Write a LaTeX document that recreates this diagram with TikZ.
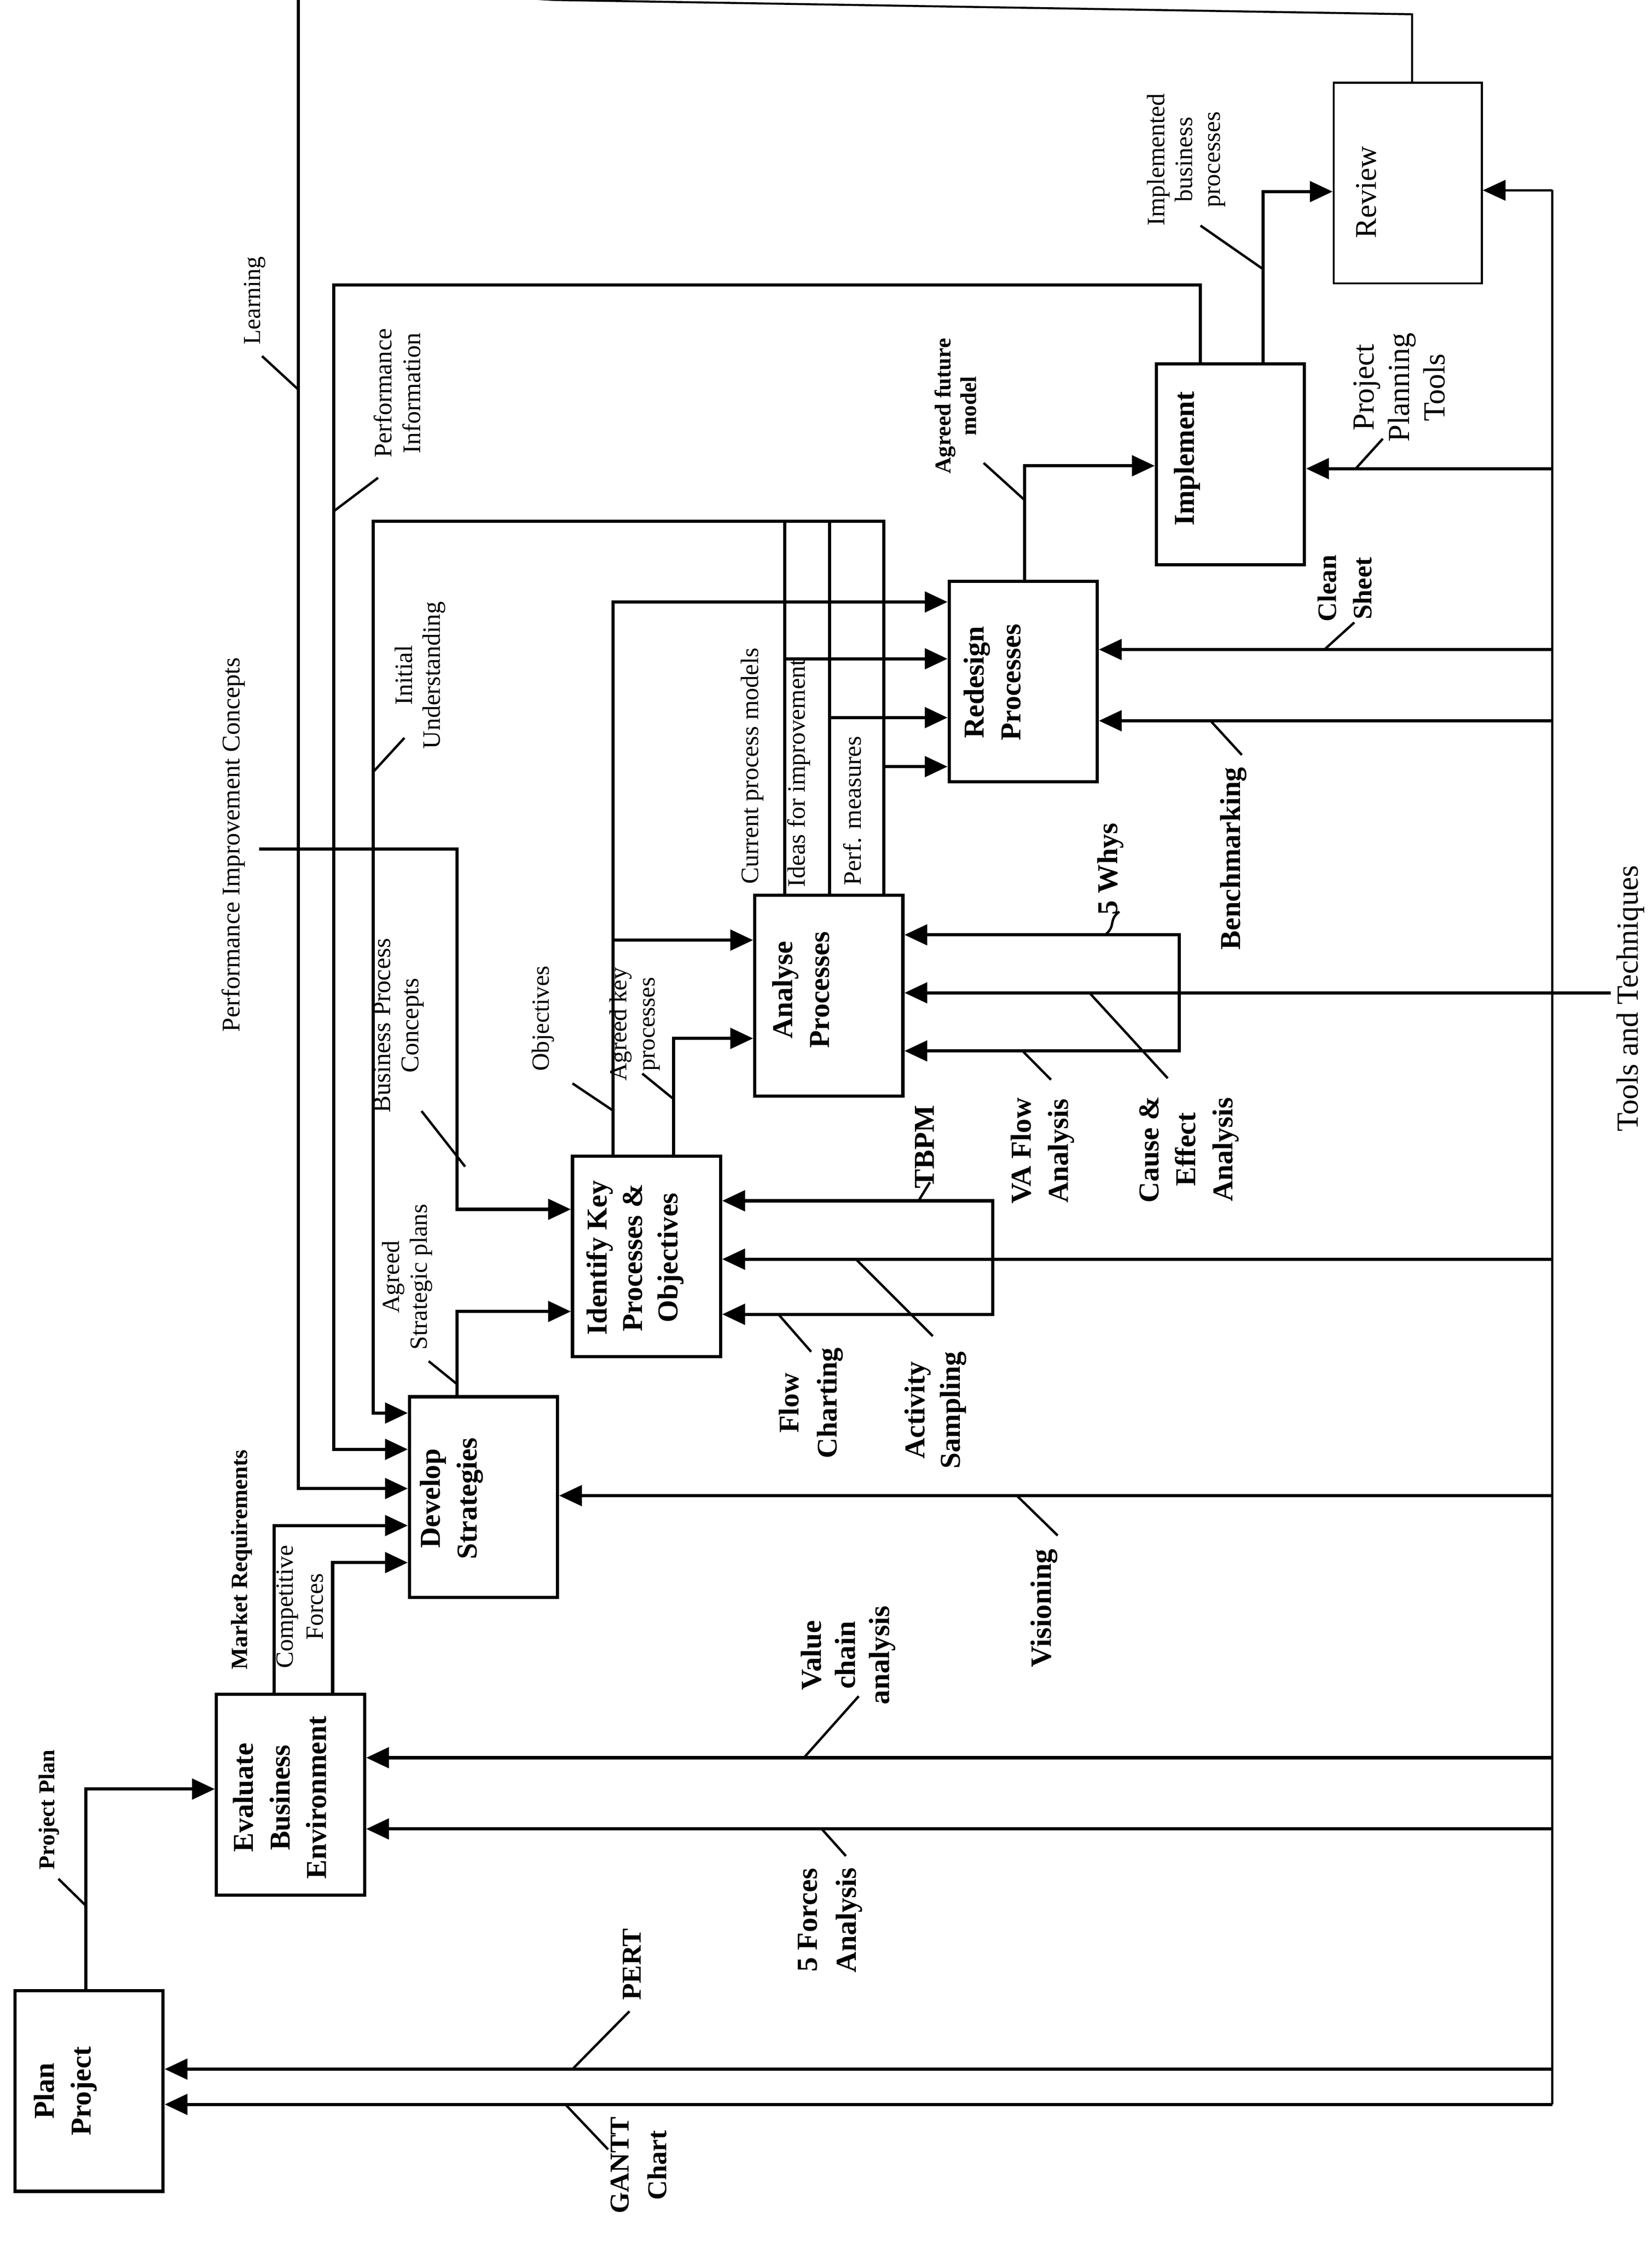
\documentclass[tikz,border=0pt]{standalone}
\usepackage{fontspec}
\setmainfont{Liberation Serif}
\usetikzlibrary{arrows.meta}

\tikzset{
  procbox/.style={draw, line width=1.6pt, minimum width=2.6cm, minimum height=3.52cm, inner sep=0pt},
  boxtxt/.style={rotate=90, align=center, inner sep=0pt, font=\bfseries\fontsize{14.4}{18.3}\selectfont},
  flow/.style={line width=1.6pt, -{Triangle[length=0.4cm,width=0.36cm]}},
  thinflow/.style={line width=1pt, -{Triangle[length=0.4cm,width=0.36cm]}},
  tick/.style={line width=1.2pt},
  plainlab/.style={rotate=90, align=center, inner sep=0pt, font=\fontsize{12.5}{14}\selectfont},
  boldlab/.style={rotate=90, align=center, inner sep=0pt, font=\bfseries\fontsize{14.4}{18.5}\selectfont}
}

\begin{document}
\begin{tikzpicture}[x=0.025cm, y=-0.025cm]
  \fill[white] (0,0) rectangle (1160,1574);
  \useasboundingbox (0,0) rectangle (1160,1574);

  % Process boxes
  \node[procbox] (plan) at (62.5,1468) {};
  \node[procbox] (eval) at (204,1260) {};
  \node[procbox] (dev) at (339.5,1051) {};
  \node[procbox] (ident) at (454,882) {};
  \node[procbox] (anal) at (582,699) {};
  \node[procbox] (redes) at (718.5,478.5) {};
  \node[procbox] (impl) at (864,326) {};
  \node[procbox, line width=1pt] (review) at (988.5,128.5) {};

  \node[boxtxt] (plan-t) at (46,1468) {Plan\\Project};
  \node[boxtxt] (eval-t) at (196.5,1262) {Evaluate\\Business\\Environment};
  \node[boxtxt] (dev-t) at (317,1052) {Develop\\Strategies};
  \node[boxtxt, font=\bfseries\fontsize{14.4}{17.6}\selectfont] (ident-t) at (446,883) {Identify Key\\Processes \&\\Objectives};
  \node[boxtxt] (anal-t) at (562.5,695) {Analyse\\Processes};
  \node[boxtxt] (redes-t) at (696.7,479) {Redesign\\Processes};
  \node[boxtxt] (impl-t) at (833.7,322) {Implement};
  \node[boxtxt, font=\fontsize{15}{18}\selectfont] (review-t) at (959.5,135) {Review};

  % Outputs and controls between boxes
  \coordinate (pp) at (60.4,1256);
  \draw[flow] (pp |- plan.north) -- (pp) -- (pp -| eval.west);
  \coordinate (mr) at (192.4,1071);
  \draw[flow] (mr |- eval.north) -- (mr) -- (mr -| dev.west);
  \coordinate (cf) at (233.6,1097);
  \draw[flow] (cf |- eval.north) -- (cf) -- (cf -| dev.west);

  \coordinate (rv) at (991.6,10);
  \coordinate (lr) at (209.5,1045);
  \draw[line width=1pt] (rv |- review.north) -- (rv) -- (390,0) -- (209.5,-10);
  \draw[flow] (209.5,-10) -- (lr) -- (lr -| dev.west);

  \coordinate (pi) at (843,200);
  \coordinate (pi2) at (234.5,1017.5);
  \draw[flow] (pi |- impl.north) -- (pi) -- (pi -| pi2) -- (pi2) -- (pi2 -| dev.west);

  \coordinate (cpm) at (551,366);
  \coordinate (ifi) at (582.6,366);
  \coordinate (pm) at (620.5,366);
  \coordinate (iu) at (262,992);
  \draw[line width=1.6pt] (cpm |- anal.north) -- (cpm);
  \draw[line width=1.6pt] (ifi |- anal.north) -- (ifi);
  \draw[flow] (pm |- anal.north) -- (pm) -- (iu |- pm) -- (iu) -- (iu -| dev.west);
  \draw[flow] (551,462.5) -- (redes.west |- 0,462.5);
  \draw[flow] (582.6,503.8) -- (redes.west |- 0,503.8);
  \draw[flow] (620.5,538.2) -- (redes.west |- 0,538.2);

  \coordinate (ob) at (430.5,422.6);
  \draw[flow] (ob |- ident.north) -- (ob) -- (ob -| redes.west);
  \draw[flow] (430.5,660) -- (anal.west |- 0,660);
  \coordinate (akp) at (473,729);
  \draw[flow] (akp |- ident.north) -- (akp) -- (akp -| anal.west);
  \coordinate (asp) at (321,920.7);
  \draw[flow] (asp |- dev.north) -- (asp) -- (asp -| ident.west);
  \coordinate (pic) at (182,596);
  \coordinate (pic2) at (321,849);
  \draw[flow] (pic) -- (pic -| pic2) -- (pic2) -- (pic2 -| ident.west);

  \coordinate (afm) at (719.4,327);
  \draw[flow] (afm |- redes.north) -- (afm) -- (afm -| impl.west);
  \coordinate (ibp) at (887,134.5);
  \draw[flow] (ibp |- impl.north) -- (ibp) -- (ibp -| review.west);

  % Tools and techniques (mechanisms)
  \coordinate (tt) at (1090,133.6);
  \coordinate (tt-end) at (1090,1477.4);
  \draw[line width=1pt] (tt) -- (tt-end);
  \draw[thinflow] (tt) -- (tt -| review.east);
  \foreach \yy/\bx in {329/impl, 456/redes, 506/redes, 884/ident, 1050/dev, 1234/eval, 1284/eval, 1452.6/plan, 1477.4/plan}
    \draw[flow] (1090,\yy) -- (\bx.east |- 0,\yy);
  \draw[flow] (1131,697) -- (anal.east |- 0,697);
  \draw[flow] (697,884) |- (ident.east |- 0,843);
  \draw[flow] (697,884) |- (ident.east |- 0,922.7);
  \draw[flow] (828,697) |- (anal.east |- 0,656.3);
  \draw[flow] (828,697) |- (anal.east |- 0,737.8);

  % Leader ticks
  \draw[tick] (41,1319) -- (60.4,1338);
  \draw[tick] (184,250) -- (209.5,273.5);
  \draw[tick] (234.5,358.8) -- (265.5,335.4);
  \draw[tick] (262,542) -- (284,518);
  \draw[tick] (296,780) -- (326.6,819);
  \draw[tick] (301,955.6) -- (321,971.8);
  \draw[tick] (402,760.6) -- (430.5,779.7);
  \draw[tick] (451,753.7) -- (473,771.6);
  \draw[tick] (645,843) -- (653,830);
  \draw[tick] (546.6,922.7) -- (569.6,949);
  \draw[tick] (601,884) -- (655,938);
  \draw[tick] (776,656.3) .. controls (784,650) and (778,646) .. (786,640);
  \draw[tick] (718,737.8) -- (738,758);
  \draw[tick] (765,697) -- (820,757);
  \draw[tick] (850,506) -- (872,530);
  \draw[tick] (930,456) -- (951,437);
  \draw[tick] (952,329) -- (971,308);
  \draw[tick] (690.7,325) -- (719.4,351);
  \draw[tick] (843,158.4) -- (887,189);
  \draw[tick] (714,1050) -- (742.7,1078);
  \draw[tick] (564.5,1234) -- (603,1190.8);
  \draw[tick] (577,1284) -- (594,1303);
  \draw[tick] (402,1452.6) -- (442,1412);
  \draw[tick] (397,1477.4) -- (427,1509);

  % Labels
  \node[boldlab, font=\bfseries\fontsize{11.3}{13}\selectfont] (l-pp) at (34.4,1270.5) {Project Plan};
  \node[boldlab, font=\bfseries\fontsize{11.6}{13}\selectfont] (l-mr) at (169.6,1095) {Market Requirements};
  \node[plainlab, font=\fontsize{12.4}{14.9}\selectfont] (l-cf) at (210.5,1128) {Competitive\\Forces};
  \node[plainlab, font=\fontsize{12.2}{14}\selectfont] (l-lr) at (178.8,211) {Learning};
  \node[plainlab, font=\fontsize{12.6}{14.3}\selectfont] (l-pi) at (279,276) {Performance\\Information};
  \node[plainlab] (l-iu) at (295,474) {Initial\\Understanding};
  \node[plainlab, font=\fontsize{12.7}{14}\selectfont] (l-pic) at (164,593) {Performance Improvement Concepts};
  \node[plainlab, font=\fontsize{12.7}{14}\selectfont] (l-bpc) at (280,720) {Business Process\\Concepts};
  \node[plainlab, font=\fontsize{12.3}{14}\selectfont] (l-asp) at (286,896.5) {Agreed\\Strategic plans};
  \node[plainlab, font=\fontsize{12.3}{14}\selectfont] (l-ob) at (381.4,715) {Objectives};
  \node[plainlab, font=\fontsize{12.2}{14}\selectfont] (l-akp) at (445.8,719) {Agreed key\\processes};
  \node[plainlab, anchor=west] (l-cpm) at (528.3,621) {Current process models};
  \node[plainlab, anchor=west] (l-ifi) at (561,623) {Ideas for improvement};
  \node[plainlab, anchor=west] (l-pm) at (598.4,622) {Perf. measures};
  \node[boldlab] (l-tb) at (649.4,805) {TBPM};
  \node[boldlab, font=\bfseries\fontsize{14.2}{19}\selectfont] (l-fc) at (569.5,985) {Flow\\Charting};
  \node[boldlab, font=\bfseries\fontsize{14.4}{17.7}\selectfont] (l-as) at (657,990) {Activity\\Sampling};
  \node[boldlab] (l-fw) at (779.8,610) {5 Whys};
  \node[boldlab] (l-va) at (732,808) {VA Flow\\Analysis};
  \node[boldlab] (l-ce) at (835,807) {Cause \&\\Effect\\Analysis};
  \node[boldlab] (l-bm) at (866,602.7) {Benchmarking};
  \node[boldlab, font=\bfseries\fontsize{13.3}{17.6}\selectfont] (l-cs) at (944.3,413) {Clean\\Sheet};
  \node[plainlab, font=\fontsize{15.3}{17.7}\selectfont] (l-ppt) at (982.5,272) {Project\\Planning\\Tools};
  \node[boldlab, font=\bfseries\fontsize{11.3}{12.8}\selectfont] (l-afm) at (671,285) {Agreed future\\model};
  \node[plainlab, font=\fontsize{12.5}{13.8}\selectfont] (l-ibp) at (833,112) {Implemented\\business\\processes};
  \node[boldlab, font=\bfseries\fontsize{14.7}{18}\selectfont] (l-vis) at (733,1129) {Visioning};
  \node[boldlab, font=\bfseries\fontsize{14.5}{17}\selectfont] (l-vca) at (595.5,1162) {Value\\chain\\analysis};
  \node[boldlab, font=\bfseries\fontsize{14.5}{19.5}\selectfont] (l-5f) at (582.8,1348) {5 Forces\\Analysis};
  \node[boldlab, font=\bfseries\fontsize{13.6}{19}\selectfont] (l-pert) at (443.6,1379) {PERT};
  \node[boldlab, font=\bfseries\fontsize{13.6}{19}\selectfont] (l-gantt) at (448.5,1520) {GANTT\\Chart};
  \node[plainlab, font=\fontsize{15.3}{18}\selectfont] (l-tt) at (1144.8,701) {Tools and Techniques};
\end{tikzpicture}
\end{document}
